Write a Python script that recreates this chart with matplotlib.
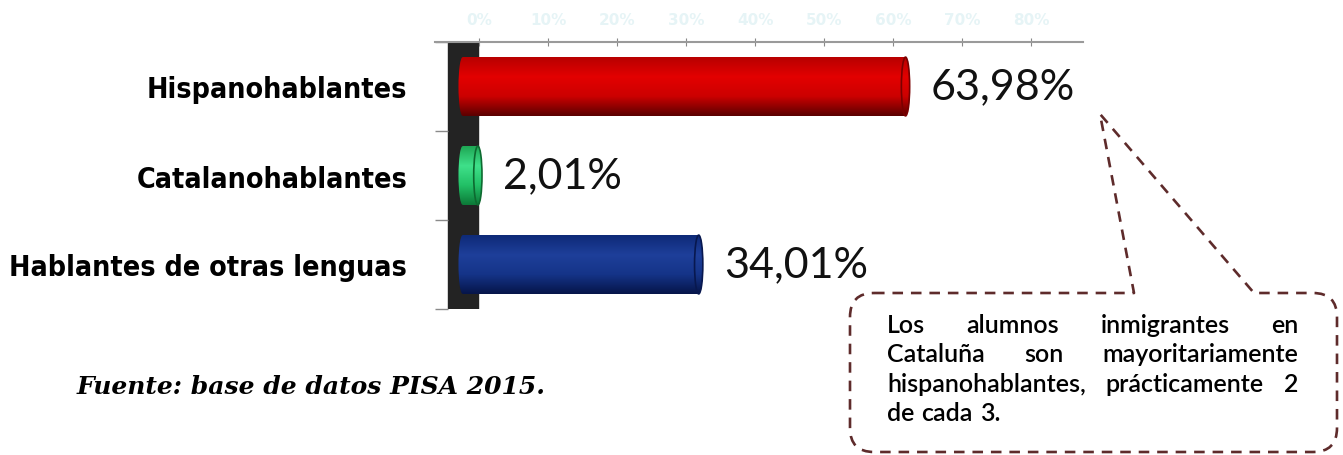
#Bar chart: language spoken by immigrant students in Catalonia (PISA 2015)
import matplotlib
matplotlib.use("Agg")
import matplotlib.pyplot as plt
import numpy as np
from matplotlib import font_manager as fm
from matplotlib.patches import Ellipse, Rectangle, PathPatch
from matplotlib.path import Path

categories = ['Hispanohablantes', 'Catalanohablantes', 'Hablantes de otras lenguas']
values = [63.98, 2.01, 34.01]
value_labels = ['63,98%', '2,01%', '34,01%']
xticks = [0, 10, 20, 30, 40, 50, 60, 70, 80]
xtick_labels = ['0%', '10%', '20%', '30%', '40%', '50%', '60%', '70%', '80%']
source = 'Fuente: base de datos PISA 2015.'
note_lines = ['Los alumnos inmigrantes en',
              'Cataluña son mayoritariamente',
              'hispanohablantes, prácticamente 2',
              'de cada 3.']

# cylinder shading, top -> highlight -> middle -> bottom
bar_shades = [['#b80000', '#e30000', '#cc0000', '#5c0000'],
              ['#1fa855', '#3fe08a', '#22c066', '#0c7a38'],
              ['#0e2a78', '#1e3f9a', '#153488', '#06154a']]
cap_edges = ['#7a0000', '#0d6a30', '#08184f']

# look for a narrow bold face for the category names
cat_prop = None
for f in fm.fontManager.ttflist:
    fn = f.fname.lower()
    if ('condensed' in fn or 'narrow' in fn) and 'bold' in fn and 'italic' not in fn \
            and 'oblique' not in fn and 'extra' not in fn and 'semi' not in fn:
        cat_prop = fm.FontProperties(fname=f.fname, size=20.5)
        break
if cat_prop is None:
    cat_prop = fm.FontProperties(family='DejaVu Sans', weight='bold', size=18.5)

W, H = 1343, 456
fig = plt.figure(figsize=(W / 100, H / 100), dpi=100)
ax = fig.add_axes([435 / W, 1 - 310 / H, (1083 - 435) / W, (310 - 43) / H])

# dark back wall of the 3D chart
ax.axvspan(-4.5, -0.1, color='#232323', zorder=1)

depth = 3.0      # 3D offset of the bars
cap = 1.2        # width of the end caps
bar_h = 0.66


def gradient(stops):
    pos = np.linspace(0, 1, len(stops))
    rgb = np.array([matplotlib.colors.to_rgb(c) for c in stops])
    t = np.linspace(0, 1, 64)
    img = np.stack([np.interp(t, pos, rgb[:, k]) for k in range(3)], axis=1)
    return np.repeat(img[:, None, :], 2, axis=1)


for i, v in enumerate(values):
    start = -depth + cap / 2
    end = v - depth + 1.4 - cap / 2
    img = gradient(bar_shades[i])
    shapes = [Rectangle((start, i - bar_h / 2), end - start, bar_h),
              Ellipse((start, i), cap, bar_h),
              Ellipse((end, i), cap, bar_h)]
    for s in shapes:
        s.set_facecolor('none')
        s.set_edgecolor('none')
        ax.add_patch(s)
        im = ax.imshow(img, extent=(min(start, end) - cap, max(start, end) + cap,
                                    i + bar_h / 2, i - bar_h / 2),
                       origin='upper', aspect='auto', zorder=2)
        im.set_clip_path(s)
    ax.add_patch(Ellipse((end, i), cap, bar_h, facecolor='none',
                         edgecolor=cap_edges[i], lw=1.2, zorder=3))
    ax.text(v + 1.5, i, value_labels[i], ha='left', va='center',
            fontsize=31, family=['Lato', 'DejaVu Sans'], color='#111111', zorder=4)

ax.set_xlim(-6.4, 87.5)
ax.set_ylim(2.5, -0.5)

# axes styling
for side in ['left', 'right', 'bottom']:
    ax.spines[side].set_visible(False)
ax.spines['top'].set_color('#9a9a9a')
ax.spines['top'].set_linewidth(1.5)
ax.xaxis.tick_top()
ax.set_xticks(xticks)
ax.set_xticklabels(xtick_labels, fontsize=11, fontweight='bold', color='#e6f4f6')
ax.tick_params(axis='x', direction='inout', length=6, color='#888888', pad=8)

ax.set_yticks(range(len(categories)))
ax.set_yticklabels(categories, fontproperties=cat_prop, color='black')
ax.set_yticks([-0.5, 0.5, 1.5, 2.5], minor=True)
ax.tick_params(axis='y', which='major', length=0, pad=20)
ax.tick_params(axis='y', which='minor', direction='in', length=9.5, color='#8a8a8a', width=1)

# source
fig.text(77 / W, 1 - 394 / H, source, ha='left', va='baseline',
         family='DejaVu Serif', style='italic', fontweight='bold', fontsize=18)

# callout box with pointer
L, R, T, B, r = 850, 1337, 294, 453, 24
bx1, bx2, tip = 1134, 1254, (1100, 115)
pts = [(L + r, T), (bx1, T), tip, (bx2, T), (R - r, T),
       (R, T), (R, T + r), (R, B - r), (R, B), (R - r, B),
       (L + r, B), (L, B), (L, B - r), (L, T + r), (L, T), (L + r, T)]
codes = [Path.MOVETO, Path.LINETO, Path.LINETO, Path.LINETO, Path.LINETO,
         Path.CURVE3, Path.CURVE3, Path.LINETO, Path.CURVE3, Path.CURVE3,
         Path.LINETO, Path.CURVE3, Path.CURVE3, Path.LINETO, Path.CURVE3, Path.CURVE3]
pts = [(x / W, 1 - y / H) for x, y in pts]
fig.patches.append(PathPatch(Path(pts, codes), transform=fig.transFigure,
                             facecolor='none', edgecolor='#5e2b2b', lw=1.9,
                             linestyle=(0, (4, 3)), joinstyle='round'))

# justified note text
renderer = fig.canvas.get_renderer()
x0, x1 = 887, 1298
base0, pitch = 333, 29.3
for n, line in enumerate(note_lines):
    words = line.split()
    yb = 1 - (base0 + n * pitch) / H
    objs = [fig.text(0, yb, w, ha='left', va='baseline', fontsize=18,
                     family=['Lato', 'DejaVu Sans'], fontweight='semibold',
                     color='black') for w in words]
    widths = [t.get_window_extent(renderer).width for t in objs]
    if n < len(note_lines) - 1 and len(words) > 1:
        gap = (x1 - x0 - sum(widths)) / (len(words) - 1)
    else:
        gap = 7
    x = x0
    for t, w in zip(objs, widths):
        t.set_x(x / W)
        x += w + gap

fig.savefig('out.png', dpi=100)
